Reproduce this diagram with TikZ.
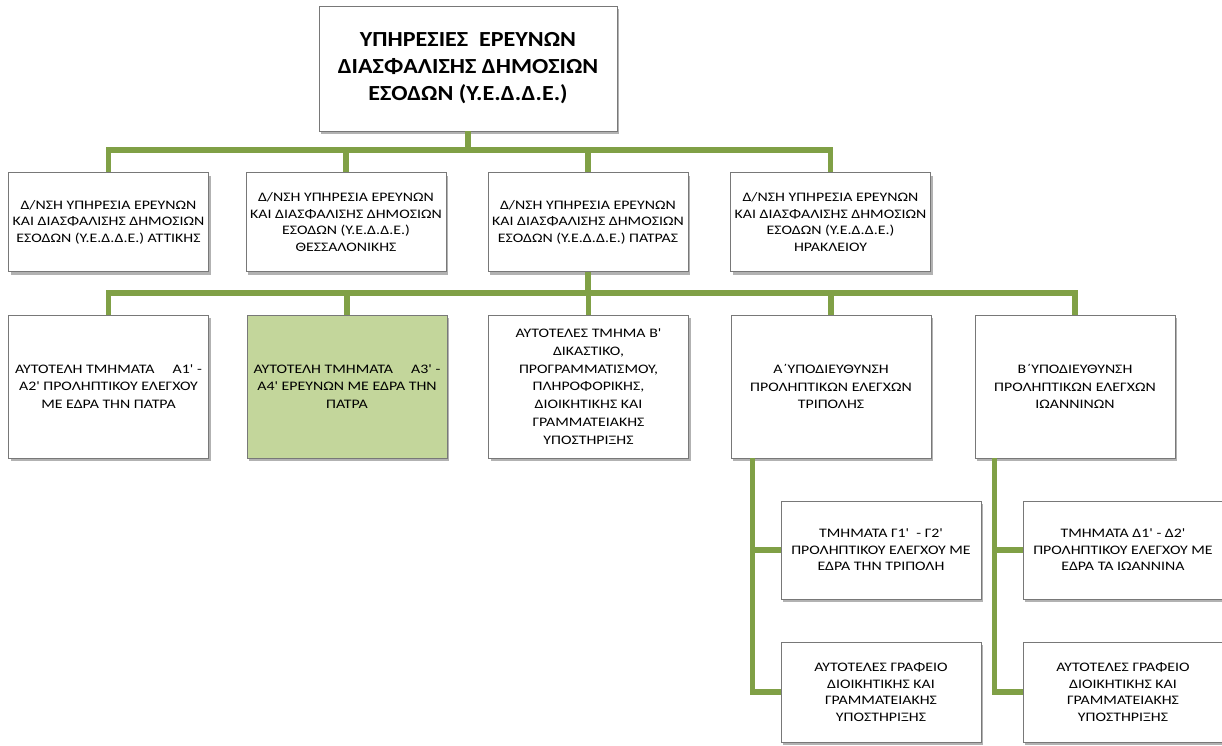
\documentclass[tikz,border=0pt]{standalone}
\usepackage{fontspec}
\setmainfont{Carlito}[Ligatures=TeXOff, FakeStretch=1.22]
\newfontfamily\titulo{Carlito}[Ligatures=TeXOff, FakeStretch=1.12]
\usepackage{xcolor}
\usepackage{tikz}
\usetikzlibrary{shadows, positioning}

\definecolor{linea}{RGB}{128,160,70}
\definecolor{verde}{RGB}{195,214,155}
\definecolor{borde}{RGB}{120,120,120}

\tikzset{
  caja/.style={draw=borde, line width=0.8pt, fill=white, align=center, inner sep=2pt,
    minimum width=200pt, minimum height=99pt,
    font=\fontsize{13}{16.5}\selectfont,
    drop shadow={shadow xshift=2pt, shadow yshift=-3pt, fill=black, opacity=0.3}},
  alta/.style={minimum height=143pt, font=\fontsize{13}{17.8}\selectfont},
  conn/.style={draw=linea, line width=5.5pt}
}

\begin{document}
\begin{tikzpicture}[x=1pt, y=-1pt]

\useasboundingbox (0,0) rectangle (1222,745);  % Marco de la imagen

% Caja principal
\node[caja, minimum width=298pt, minimum height=125pt, font=\titulo\fontsize{21.5}{27}\selectfont\bfseries] (yedde) at (468,68.5)
  {ΥΠΗΡΕΣΙΕΣ\ \ ΕΡΕΥΝΩΝ\\ΔΙΑΣΦΑΛΙΣΗΣ ΔΗΜΟΣΙΩΝ\\ΕΣΟΔΩΝ (Υ.Ε.Δ.Δ.Ε.)};

% Primer nivel: direcciones
\node[caja] (attiki) at (108.5,222) {Δ/ΝΣΗ ΥΠΗΡΕΣΙΑ ΕΡΕΥΝΩΝ\\ΚΑΙ ΔΙΑΣΦΑΛΙΣΗΣ ΔΗΜΟΣΙΩΝ\\ΕΣΟΔΩΝ (Υ.Ε.Δ.Δ.Ε.) ΑΤΤΙΚΗΣ};
\node[caja] (thess) at (346,222) {Δ/ΝΣΗ ΥΠΗΡΕΣΙΑ ΕΡΕΥΝΩΝ\\ΚΑΙ ΔΙΑΣΦΑΛΙΣΗΣ ΔΗΜΟΣΙΩΝ\\ΕΣΟΔΩΝ (Υ.Ε.Δ.Δ.Ε.)\\ΘΕΣΣΑΛΟΝΙΚΗΣ};
\node[caja] (patra) at (588,222) {Δ/ΝΣΗ ΥΠΗΡΕΣΙΑ ΕΡΕΥΝΩΝ\\ΚΑΙ ΔΙΑΣΦΑΛΙΣΗΣ ΔΗΜΟΣΙΩΝ\\ΕΣΟΔΩΝ (Υ.Ε.Δ.Δ.Ε.) ΠΑΤΡΑΣ};
\node[caja] (irakl) at (830.5,222) {Δ/ΝΣΗ ΥΠΗΡΕΣΙΑ ΕΡΕΥΝΩΝ\\ΚΑΙ ΔΙΑΣΦΑΛΙΣΗΣ ΔΗΜΟΣΙΩΝ\\ΕΣΟΔΩΝ (Υ.Ε.Δ.Δ.Ε.)\\ΗΡΑΚΛΕΙΟΥ};

% Segundo nivel: tmimata de Patras
\node[caja, alta] (tmA1) at (108.5,386.5) {ΑΥΤΟΤΕΛΗ ΤΜΗΜΑΤΑ\hspace{1.4em}Α1' -\\Α2' ΠΡΟΛΗΠΤΙΚΟΥ ΕΛΕΓΧΟΥ\\ΜΕ ΕΔΡΑ ΤΗΝ ΠΑΤΡΑ};
\node[caja, alta, fill=verde] (tmA3) at (347,386.5) {ΑΥΤΟΤΕΛΗ ΤΜΗΜΑΤΑ\hspace{1.4em}Α3' -\\Α4' ΕΡΕΥΝΩΝ ΜΕ ΕΔΡΑ ΤΗΝ\\ΠΑΤΡΑ};
\node[caja, alta] (tmB) at (588.5,386.5) {ΑΥΤΟΤΕΛΕΣ ΤΜΗΜΑ Β'\\ΔΙΚΑΣΤΙΚΟ,\\ΠΡΟΓΡΑΜΜΑΤΙΣΜΟΥ,\\ΠΛΗΡΟΦΟΡΙΚΗΣ,\\ΔΙΟΙΚΗΤΙΚΗΣ ΚΑΙ\\ΓΡΑΜΜΑΤΕΙΑΚΗΣ\\ΥΠΟΣΤΗΡΙΞΗΣ};
\node[caja, alta] (ypoA) at (831,386.5) {Α΄ΥΠΟΔΙΕΥΘΥΝΣΗ\\ΠΡΟΛΗΠΤΙΚΩΝ ΕΛΕΓΧΩΝ\\ΤΡΙΠΟΛΗΣ};
\node[caja, alta] (ypoB) at (1075,386.5) {Β΄ΥΠΟΔΙΕΥΘΥΝΣΗ\\ΠΡΟΛΗΠΤΙΚΩΝ ΕΛΕΓΧΩΝ\\ΙΩΑΝΝΙΝΩΝ};

% Tercer nivel
\node[caja, minimum height=98pt] (tmG) at (881,550) {ΤΜΗΜΑΤΑ Γ1'\ \ - Γ2'\\ΠΡΟΛΗΠΤΙΚΟΥ ΕΛΕΓΧΟΥ ΜΕ\\ΕΔΡΑ ΤΗΝ ΤΡΙΠΟΛΗ};
\node[caja, minimum height=100pt] (grafA) at (881,692) {ΑΥΤΟΤΕΛΕΣ ΓΡΑΦΕΙΟ\\ΔΙΟΙΚΗΤΙΚΗΣ ΚΑΙ\\ΓΡΑΜΜΑΤΕΙΑΚΗΣ\\ΥΠΟΣΤΗΡΙΞΗΣ};
\node[caja, minimum height=98pt] (tmD) at (1123,550) {ΤΜΗΜΑΤΑ Δ1' - Δ2'\\ΠΡΟΛΗΠΤΙΚΟΥ ΕΛΕΓΧΟΥ ΜΕ\\ΕΔΡΑ ΤΑ ΙΩΑΝΝΙΝΑ};
\node[caja, minimum height=100pt] (grafB) at (1123,692) {ΑΥΤΟΤΕΛΕΣ ΓΡΑΦΕΙΟ\\ΔΙΟΙΚΗΤΙΚΗΣ ΚΑΙ\\ΓΡΑΜΜΑΤΕΙΑΚΗΣ\\ΥΠΟΣΤΗΡΙΞΗΣ};

% Lineas de union
\coordinate (bus1) at (yedde.south |- 0,150);
\coordinate (bus2) at (patra.south |- 0,293);
\draw[conn] (yedde.south) -- (bus1);
\foreach \n in {attiki, thess, patra, irakl} \draw[conn] (\n.north) |- (bus1);
\draw[conn] (patra.south) -- (bus2);
\foreach \n in {tmA1, tmA3, tmB, ypoA, ypoB} \draw[conn] (\n.north) |- (bus2);
\draw[conn] ([xshift=22pt]ypoA.south west) |- (tmG.west);
\draw[conn] ([xshift=22pt]ypoA.south west) |- (grafA.west);
\draw[conn] ([xshift=20pt]ypoB.south west) |- (tmD.west);
\draw[conn] ([xshift=20pt]ypoB.south west) |- (grafB.west);

\end{tikzpicture}
\end{document}
